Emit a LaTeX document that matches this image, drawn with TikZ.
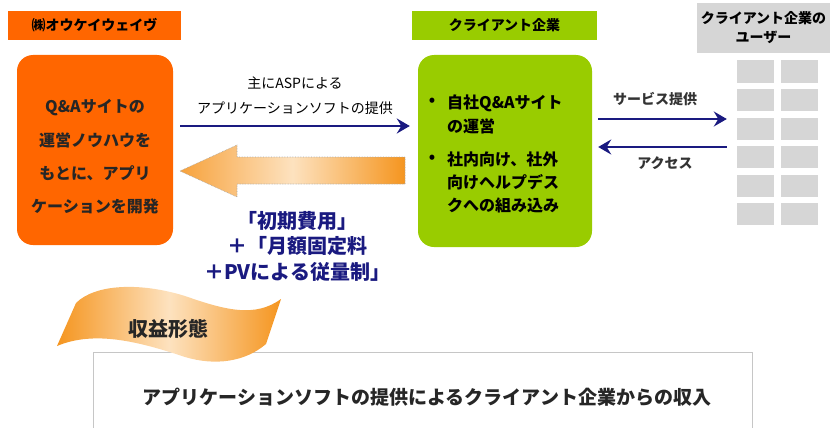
\documentclass[tikz,border=0pt]{standalone}
\usepackage{fontspec}
\setmainfont{Noto Sans CJK JP}
\usetikzlibrary{arrows.meta}
\definecolor{ora}{HTML}{FF6600}
\definecolor{grn}{HTML}{99CC00}
\definecolor{gry}{HTML}{D6D6D6}
\definecolor{navy}{HTML}{1A1A80}
\definecolor{arrA}{HTML}{F7A23C}
\definecolor{arrB}{HTML}{FDE2BF}
\definecolor{arrC}{HTML}{F5951F}
\begin{document}
\begin{tikzpicture}[x=1pt,y=-1pt,
  hdr/.style={minimum height=29pt, inner sep=0pt, font=\fontsize{14}{16}\selectfont\bfseries},
  bigbox/.style={rounded corners=16pt, inner sep=0pt},
  ubox/.style={fill=gry, minimum width=37pt, minimum height=22pt, inner sep=0pt},
  blarr/.style={draw=navy, line width=2.8pt, -{Stealth[length=13pt,width=15pt,inset=4.5pt]}},
  lbl/.style={inner sep=0pt, align=center},
  txt/.style={inner sep=0pt, align=left, anchor=west},
]
\useasboundingbox (0,0) rectangle (832,428);

% headers
\node[hdr, fill=ora, minimum width=173pt] (hl) at (94.5,25.5) {㈱オウケイウェイヴ};
\node[hdr, fill=grn, minimum width=185pt] (hg) at (504.5,25.5) {クライアント企業};
\node[fill=gry, minimum width=133pt, minimum height=50pt, inner sep=0pt, align=center,
      font=\fontsize{14}{19}\selectfont\bfseries] (hu) at (763.5,28) {クライアント企業の\\ユーザー};

% main boxes
\node[bigbox, fill=ora, minimum width=156pt, minimum height=190pt] (ob) at (95,150) {};
\node[lbl, font=\fontsize{16}{33.3}\selectfont\bfseries, text=black!85] (obt) at (95,157)
  {Q\&Aサイトの\\運営ノウハウを\\もとに、アプリ\\ケーションを開発};

\node[bigbox, fill=grn, minimum width=174pt, minimum height=192pt] (gb) at (505,151) {};
\node[inner sep=0pt, font=\fontsize{16}{20}\selectfont\bfseries] (b1) at (432,102) {•};
\node[txt, font=\fontsize{16}{24}\selectfont\bfseries] (g1) at (447,114) {自社Q\&Aサイト\\の運営};
\node[inner sep=0pt, font=\fontsize{16}{20}\selectfont\bfseries] (b2) at (432,159) {•};
\node[txt, font=\fontsize{16}{23}\selectfont\bfseries] (g2) at (447,182) {社内向け、社外\\向けヘルプデス\\クへの組み込み};

% user boxes
\foreach \r/\y in {1/71.5,2/100,3/128.5,4/157,5/185.5,6/214}{
  \node[ubox] (u\r l) at (755.5,\y) {};
  \node[ubox] (u\r r) at (799,\y) {};
}

% helper rows
\coordinate (r1) at (0,126);
\coordinate (r2) at (0,119);
\coordinate (r3) at (0,147);

% top arrow + label
\node[lbl, font=\fontsize{14}{25}\selectfont] (lab1) at (295,95.5) {主にASPによる\\アプリケーションソフトの提供};
\draw[blarr, line width=2.4pt, shorten <=7pt, shorten >=8pt] (ob.east |- r1) -- (gb.west |- r1);

% fat arrow
\shade[left color=arrA, right color=arrC, middle color=arrB]
  (180,171) -- (237,145) -- (237,157) -- (405,157) -- (405,184) -- (237,184) -- (237,197) -- cycle;
\draw[gray!70, densely dotted, line width=0.6pt]
  (180,171) -- (237,145) -- (237,157) -- (405,157) -- (405,184) -- (237,184) -- (237,197) -- cycle;

% fee text
\node[lbl, font=\fontsize{20}{25.5}\selectfont\bfseries, text=navy] (fee) at (297,246)
  {「初期費用」\\＋「月額固定料\\＋PVによる従量制」};

% right arrows
\node[lbl, font=\fontsize{14}{16}\selectfont\bfseries, text=black!80] (svc) at (655,99) {サービス提供};
\draw[blarr, shorten <=6pt, shorten >=10pt] (gb.east |- r2) -- (u3l.west |- r2);
\draw[blarr, shorten <=10pt, shorten >=6pt] (u3l.west |- r3) -- (gb.east |- r3);
\node[lbl, font=\fontsize{14}{16}\selectfont\bfseries, text=black!80] (acc) at (665,163) {アクセス};

% bottom box
\draw[gray!45, line width=1pt] (93,440) -- (93,352) -- (752,352) -- (752,440);
\node[lbl, font=\fontsize{19}{22}\selectfont\bfseries, text=black!85] (inc) at (427,397)
  {アプリケーションソフトの提供によるクライアント企業からの収入};

% banner
\shade[left color=arrC, right color=arrC, middle color=arrB]
  (57,346) -- (76,303) .. controls (95,284) and (140,282) .. (185,296)
  .. controls (225,310) and (255,318) .. (281,299) -- (266,344)
  .. controls (245,362) and (215,366) .. (185,357)
  .. controls (140,342) and (95,330) .. (57,346) -- cycle;
\node[lbl, font=\fontsize{20}{22}\selectfont\bfseries, text=black!85] (ban) at (168,329) {収益形態};
\end{tikzpicture}
\end{document}
